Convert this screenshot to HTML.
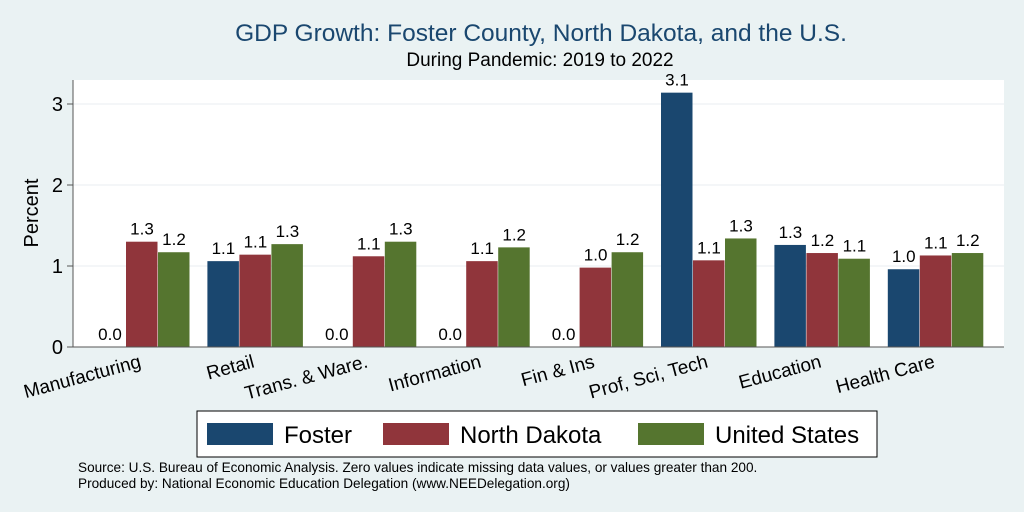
<!DOCTYPE html>
<html><head><meta charset="utf-8"><style>
body{margin:0;background:#eaf2f3;}
svg{display:block;font-family:"Liberation Sans",Arial,sans-serif;}
</style></head><body>
<svg id="chart" width="1024" height="512">
<rect x="0" y="0" width="1024" height="512" fill="#eaf2f3"/>
<text x="541" y="41" text-anchor="middle" font-size="24.5" fill="#1a476f">GDP Growth: Foster County, North Dakota, and the U.S.</text>
<text x="540" y="66" text-anchor="middle" font-size="19" fill="#000">During Pandemic: 2019 to 2022</text>
<rect x="73" y="80" width="931" height="267" fill="#fff"/>
<g id="grid"></g><g id="bars"></g><g id="axes"></g>
<text transform="translate(38,213) rotate(-90)" text-anchor="middle" font-size="20">Percent</text>
<g>
<rect x="197" y="411" width="680" height="46" fill="#fff" stroke="#000" stroke-width="1"/>
<rect x="207" y="423" width="66" height="22" fill="#1a476f"/>
<text x="284" y="443" font-size="24">Foster</text>
<rect x="383" y="423" width="66" height="22" fill="#90353b"/>
<text x="460" y="443" font-size="24">North Dakota</text>
<rect x="638" y="423" width="66" height="22" fill="#55752f"/>
<text x="715" y="443" font-size="24">United States</text>
</g>
<text x="78" y="472" font-size="13.6">Source: U.S. Bureau of Economic Analysis. Zero values indicate missing data values, or values greater than 200.</text>
<text x="78" y="488" font-size="13.6">Produced by: National Economic Education Delegation (www.NEEDelegation.org)</text>
</svg>
<script>
const categories=["Manufacturing","Retail","Trans. & Ware.","Information","Fin & Ins","Prof, Sci, Tech","Education","Health Care"];
const foster=[0,1.06,0,0,0,3.14,1.26,0.96];
const northDakota=[1.3,1.14,1.12,1.06,0.98,1.07,1.16,1.13];
const unitedStates=[1.17,1.27,1.3,1.23,1.17,1.34,1.09,1.16];
const yTicks=[0,1,2,3];
const NS="http://www.w3.org/2000/svg";
const x0=73,x1=1004,yBase=347,pxPerUnit=81;
function xCenter(i){return 142+113.4*i;}
function yScale(v){return yBase-v*pxPerUnit;}
function mk(tag,attrs,parent){const e=document.createElementNS(NS,tag);for(const k in attrs)e.setAttribute(k,attrs[k]);parent.appendChild(e);return e;}
const grid=document.getElementById('grid'),bars=document.getElementById('bars'),axes=document.getElementById('axes');
yTicks.forEach(t=>{
 if(t>0){const g=mk('line',{x1:x0,x2:x1,y1:yScale(t),y2:yScale(t),stroke:'#e8eef0','stroke-width':1},grid);
 
 }
 const tk=mk('line',{x1:x0-6,x2:x0,y1:yScale(t),y2:yScale(t),stroke:'#555'},axes);
 
 
 const lb=mk('text',{x:x0-10,y:yScale(t)+7,'text-anchor':'end','font-size':20},axes);
 lb.textContent=t;
 
 
});
const series=[["foster",foster,"#1a476f"],["north-dakota",northDakota,"#90353b"],["united-states",unitedStates,"#55752f"]];
const bw=32;
categories.forEach((c,i)=>{
 const cx=xCenter(i);
 series.forEach((s,j)=>{
  const v=s[1][i];const bx=cx+(j-1)*bw-bw/2;
  const r=mk('rect',{x:bx,y:yScale(v),width:bw-0.5,height:yBase-yScale(v),fill:s[2]},bars);
  
  
  const t=mk('text',{x:bx+bw/2,y:yScale(v)-7,'text-anchor':'middle','font-size':17},bars);
  t.textContent=v.toFixed(1);
  
  
 });
 const l=mk('text',{x:cx,y:yBase+20,'text-anchor':'end','font-size':19,transform:'rotate(-15 '+cx+' '+(yBase+20)+')'},axes);
 l.textContent=c;
 
 
});
const ax=mk('line',{x1:x0,x2:x0,y1:80,y2:yBase,stroke:'#555'},axes);


const bx=mk('line',{x1:x0,x2:x1,y1:yBase,y2:yBase,stroke:'#555'},axes);


</script>
</body></html>
